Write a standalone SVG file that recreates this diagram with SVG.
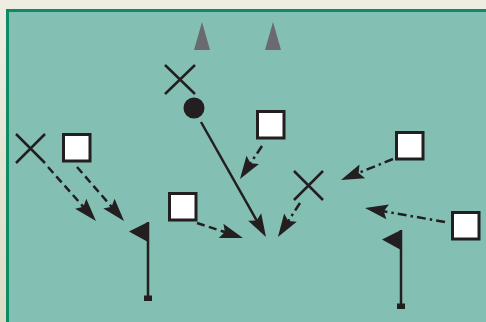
<svg xmlns="http://www.w3.org/2000/svg" width="486" height="322" viewBox="0 0 486 322">
  <defs>
    <linearGradient id="bg" x1="0" y1="0" x2="0" y2="1">
      <stop offset="0" stop-color="#eeede2"/>
      <stop offset="1" stop-color="#dcdcc6"/>
    </linearGradient>
    <marker id="ah" markerUnits="userSpaceOnUse" markerWidth="40" markerHeight="40" refX="0" refY="0" orient="auto" overflow="visible">
      <path d="M15,0 L-8,-7.5 L-4,0 L-8,7.5 Z" fill="#231f20"/>
    </marker>
  </defs>
  <style>
    .ink { stroke: #231f20; stroke-width: 2.5; fill: none; }
    .sq { fill: #ffffff; stroke: #231f20; stroke-width: 3; }
    .dash { stroke-dasharray: 8 4.5; }
    .dashdot { stroke-dasharray: 9 4 2.5 4; }
    .cone { fill: #6a6a70; }
    .blk { fill: #231f20; }
  </style>
  <rect x="0" y="0" width="486" height="322" fill="url(#bg)"/>
  <rect x="7.5" y="10.5" width="500" height="330" fill="#84bfb3" stroke="#0f8a66" stroke-width="3"/>

  <g id="cone1"><polygon class="cone" points="202,22 210,50 194,50"/></g>
  <g id="cone2"><polygon class="cone" points="273,22 281,50 265,50"/></g>

  <g id="x1"><path class="ink" d="M16,134 L45,163 M45,134 L16,163"/></g>
  <g id="x2"><path class="ink" d="M165,65 L195,94 M195,65 L165,94"/></g>
  <g id="x3"><path class="ink" d="M294,171 L323,200 M323,171 L294,200"/></g>

  <g id="ball"><circle class="blk" cx="194" cy="108" r="10.5"/></g>

  <g id="s1"><rect class="sq" x="63.5" y="134.5" width="26.5" height="26.5"/></g>
  <g id="s2"><rect class="sq" x="169.5" y="193.5" width="26.5" height="26.5"/></g>
  <g id="s3"><rect class="sq" x="257.5" y="111.5" width="26.5" height="26.5"/></g>
  <g id="s4"><rect class="sq" x="396.5" y="132.5" width="26.5" height="26.5"/></g>
  <g id="s5"><rect class="sq" x="452.5" y="212.5" width="26.5" height="26.5"/></g>

  <g id="flag1">
    <line class="ink" x1="148" y1="222" x2="148" y2="298"/>
    <polygon class="blk" points="148,222 129,231.5 148,242"/>
    <rect class="blk" x="144" y="295.5" width="8" height="5.5"/>
  </g>
  <g id="flag2">
    <line class="ink" x1="401" y1="230" x2="401" y2="305"/>
    <polygon class="blk" points="401,230 382,239.5 401,250"/>
    <rect class="blk" x="397" y="303.5" width="8" height="5.5"/>
  </g>

  <g id="connectors">
    <path class="ink dash" d="M48,167 L86,209.8" marker-end="url(#ah)"/>
    <path class="ink dash" d="M77,167 L114.2,209.7" marker-end="url(#ah)"/>
    <path class="ink dash" d="M197,223 L228.7,233.3" marker-end="url(#ah)"/>
    <path class="ink" d="M201,122 L258.6,223.9" marker-end="url(#ah)"/>
    <path class="ink dashdot" d="M262,146 L248.3,166.5" marker-end="url(#ah)"/>
    <path class="ink dashdot" d="M300,203 L286.1,224.4" marker-end="url(#ah)"/>
    <path class="ink dashdot" d="M393,159 L354.9,174.4" marker-end="url(#ah)"/>
    <path class="ink dashdot" d="M445,222 L379.8,210.6" marker-end="url(#ah)"/>
  </g>
</svg>
